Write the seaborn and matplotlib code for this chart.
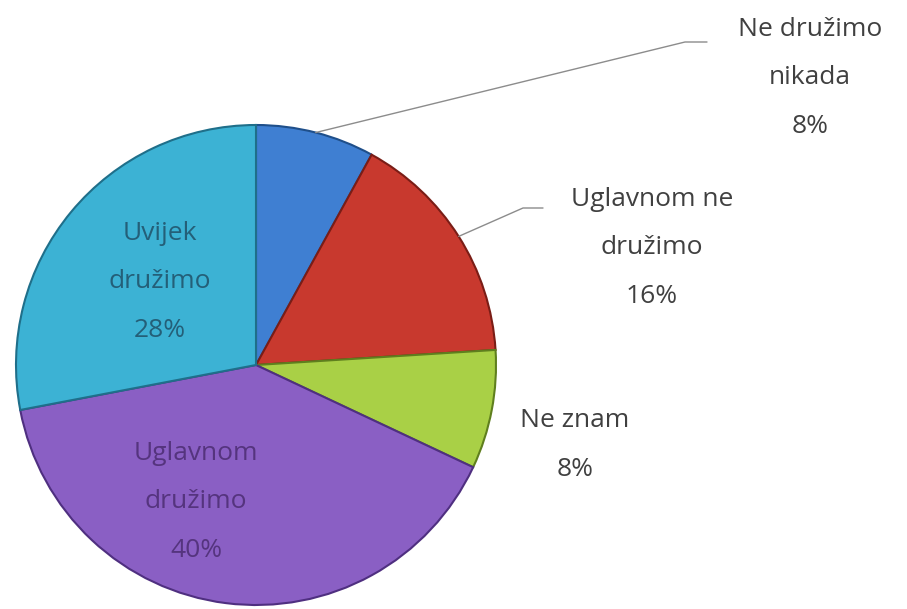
import numpy as np
import matplotlib.pyplot as plt
import seaborn as sns

# data
labels = ['Ne družimo\nnikada', 'Uglavnom ne\ndružimo', 'Ne znam', 'Uglavnom\ndružimo', 'Uvijek\ndružimo']
shares = [8, 16, 8, 40, 28]
colors = ['#3f7fd2', '#c8392e', '#a9d046', '#8a5fc4', '#3cb2d4']
edges = ['#1f4f8a', '#7a1d16', '#5f7f1e', '#4f2f80', '#1f6f8a']
inside_text = ['#1f4f8a', '#6a1d16', '#4f6f1e', '#55347e', '#245f78']

sns.set_theme(style='white')
plt.rcParams['font.family'] = ['Open Sans', 'DejaVu Sans']

fig = plt.figure(figsize=(9.07, 6.09), dpi=100)
ax = fig.add_axes([0, 0, 1, 1])

cx, cy, r = 256, 609 - 365, 240
wedges, _ = ax.pie(shares, colors=colors, startangle=90, counterclock=False,
                   center=(cx, cy), radius=r,
                   wedgeprops=dict(linewidth=1.5))
for w, ec in zip(wedges, edges):
    w.set_edgecolor(ec)

ax.set_xlim(0, 907)
ax.set_ylim(0, 609)
ax.set_aspect('equal')
ax.axis('off')

# outside labels with leader lines
gray = '#404040'
fs = 19
ls = 2.25
outside = {
    0: dict(text=(810, 609 - 78), elbow=[(685, 609 - 42), (707, 609 - 42)]),
    1: dict(text=(652, 609 - 248), elbow=[(523, 609 - 208), (543, 609 - 208)]),
    2: dict(text=(575, 609 - 445), elbow=None),
}
for i, spec in outside.items():
    w = wedges[i]
    txt = labels[i] + '\n' + str(shares[i]) + '%'
    ax.text(*spec['text'], txt, ha='center', va='center', fontsize=fs,
            color=gray, linespacing=ls)
    if spec['elbow'] is not None:
        mid = np.deg2rad((w.theta1 + w.theta2) / 2)
        p0 = (cx + r * np.cos(mid), cy + r * np.sin(mid))
        pts = [p0] + spec['elbow']
        ax.plot([p[0] for p in pts], [p[1] for p in pts], color='#8c8c8c', lw=1)

# inside labels
inside = {4: (160, 609 - 282), 3: (196, 609 - 502)}
for i, pos in inside.items():
    txt = labels[i] + '\n' + str(shares[i]) + '%'
    ax.text(*pos, txt, ha='center', va='center', fontsize=fs,
            color=inside_text[i], linespacing=ls)

plt.savefig('out.png', dpi=100)
